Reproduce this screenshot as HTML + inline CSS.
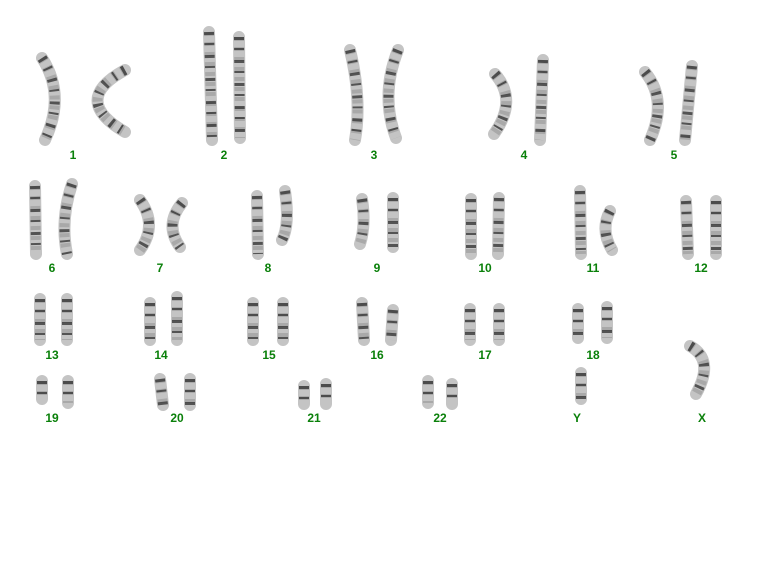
<!DOCTYPE html>
<html><head><style>
html,body{margin:0;padding:0;background:#fff;}
svg{display:block;}
text{font-family:"Liberation Sans",sans-serif;font-weight:bold;font-size:12px;fill:#0a800a;text-anchor:middle;}
.c{fill:none;stroke:#c4c4c4;stroke-width:12;stroke-linecap:round;stroke-linejoin:round;}
.b{fill:none;stroke:#2e2e2e;stroke-width:10;stroke-dasharray:3 8 2 10;stroke-linecap:butt;opacity:.75;}
.l{fill:none;stroke:#8a8a8a;stroke-width:10;stroke-dasharray:4 6;opacity:.45;}
</style></head><body>
<svg width="757" height="571" viewBox="0 0 757 571" xmlns="http://www.w3.org/2000/svg">
<defs>
<g id="chr">
<path d="M42,58 Q66,95 45,140"/>
<path d="M125,70 Q70,100 125,132"/>
<path d="M209,32 L212,140"/>
<path d="M239,37 L240,138"/>
<path d="M350,50 Q362,100 355,140"/>
<path d="M398,50 Q380,95 396,138"/>
<path d="M495,74 Q518,100 494,134"/>
<path d="M543,60 L540,140"/>
<path d="M645,72 Q668,100 650,140"/>
<path d="M692,66 L685,140"/>
<path d="M35,186 L36,254"/>
<path d="M72,184 Q60,220 67,254"/>
<path d="M140,200 Q158,225 140,250"/>
<path d="M182,203 Q164,225 180,247"/>
<path d="M257,196 L258,254"/>
<path d="M285,191 Q290,225 282,240"/>
<path d="M362,199 Q366,225 360,244"/>
<path d="M393,198 L393,247"/>
<path d="M471,199 L471,254"/>
<path d="M499,198 L498,254"/>
<path d="M580,191 L581,254"/>
<path d="M610,211 Q600,230 612,250"/>
<path d="M686,201 L688,254"/>
<path d="M716,201 L716,254"/>
<path d="M40,299 L40,340"/>
<path d="M67,299 L67,340"/>
<path d="M150,303 L150,340"/>
<path d="M177,297 L177,340"/>
<path d="M253,303 L253,340"/>
<path d="M283,303 L283,340"/>
<path d="M362,303 L364,340"/>
<path d="M393,310 L391,340"/>
<path d="M470,309 L470,340"/>
<path d="M499,309 L499,340"/>
<path d="M578,309 L578,338"/>
<path d="M607,307 L607,338"/>
<path d="M42,381 L42,399"/>
<path d="M68,381 L68,403"/>
<path d="M160,379 L163,405"/>
<path d="M190,379 L190,405"/>
<path d="M304,386 L304,404"/>
<path d="M326,384 L326,404"/>
<path d="M428,381 L428,403"/>
<path d="M452,384 L452,404"/>
<path d="M581,373 L581,399"/>
<path d="M690,346 Q715,360 696,394"/>
</g>
</defs>
<use href="#chr" class="c"/>
<use href="#chr" class="l"/>
<use href="#chr" class="b"/>
<text x="73" y="159">1</text><text x="224" y="159">2</text><text x="374" y="159">3</text><text x="524" y="159">4</text><text x="674" y="159">5</text>
<text x="52" y="272">6</text><text x="160" y="272">7</text><text x="268" y="272">8</text><text x="377" y="272">9</text><text x="485" y="272">10</text><text x="593" y="272">11</text><text x="701" y="272">12</text>
<text x="52" y="359">13</text><text x="161" y="359">14</text><text x="269" y="359">15</text><text x="377" y="359">16</text><text x="485" y="359">17</text><text x="593" y="359">18</text>
<text x="52" y="422">19</text><text x="177" y="422">20</text><text x="314" y="422">21</text><text x="440" y="422">22</text><text x="577" y="422">Y</text><text x="702" y="422">X</text>
</svg>
</body></html>
